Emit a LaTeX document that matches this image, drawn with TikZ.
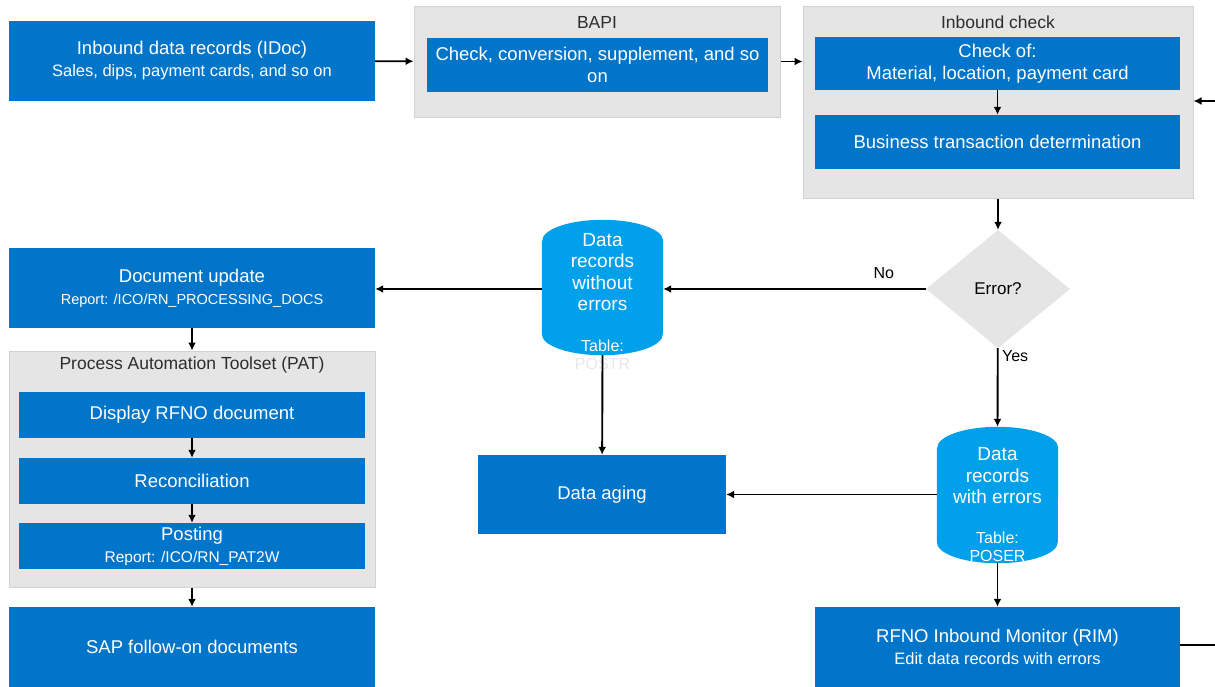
\documentclass[tikz,border=0pt]{standalone}
\usepackage{fontspec}
\setmainfont{Liberation Sans}
\usetikzlibrary{arrows.meta, positioning, shapes.geometric}

\definecolor{sapblue}{RGB}{0,117,201}
\definecolor{sapcyan}{RGB}{0,160,234}
\definecolor{boxgray}{RGB}{229,229,229}
\definecolor{titlegray}{RGB}{45,45,45}

\begin{document}
\begin{tikzpicture}[x=1pt, y=-1pt,
    blue/.style={fill=sapblue, text=white, align=center, inner sep=0pt,
                 font=\fontsize{18.5}{22}\selectfont},
    group/.style={fill=boxgray, draw=gray!35, line width=1pt, inner sep=0pt},
    title/.style={text=titlegray, font=\fontsize{17.5}{20}\selectfont},
    store/.style={inner sep=0pt, minimum width=121, minimum height=135},
    storetxt/.style={text=white, align=center, font=\fontsize{19}{21.5}\selectfont},
    tabletxt/.style={align=center, font=\fontsize{16}{18}\selectfont},
    decision/.style={diamond, fill=boxgray, inner sep=0pt, minimum width=144,
                     minimum height=118, font=\fontsize{17}{20}\selectfont},
    arrow/.style={-{Latex[length=8pt, width=8pt]}, line width=1.9pt},
    line/.style={line width=1.9pt},
    lbl/.style={font=\fontsize{16}{19}\selectfont},
]
\path[use as bounding box] (0,0) rectangle (1215,686);

% top row
\node[blue, minimum width=366, minimum height=80] (idoc) at (192,61)
    {Inbound data records (IDoc)\\{\fontsize{16.5}{19}\selectfont Sales, dips, payment cards, and so on}};

\node[group, minimum width=366, minimum height=111] (bapi) at (597,61.5) {};
\node[title] (bapititle) at (597,22) {BAPI};
\node[blue, minimum width=341, minimum height=54] (conv) at (597.5,65)
    {Check, conversion, supplement, and so\\on};

\node[group, minimum width=390, minimum height=192] (check) at (998,102) {};
\node[title] (checktitle) at (998,22) {Inbound check};
\node[blue, minimum width=365, minimum height=53] (chkof) at (997.5,63.5)
    {Check of:\\Material, location, payment card};
\node[blue, minimum width=365, minimum height=54] (btd) at (997.5,142)
    {Business transaction determination};

% decision and tables
\node[decision] (err) at (998,289) {Error?};

\node[store] (okrec) at (602.5,287.5) {};
\fill[sapcyan] ([yshift=-21pt]okrec.north west) -- ([yshift=21pt]okrec.south west)
    arc[start angle=180, end angle=360, x radius=60.5pt, y radius=21pt]
    -- ([yshift=-21pt]okrec.north east)
    arc[start angle=0, end angle=180, x radius=60.5pt, y radius=21pt] -- cycle;
\node[storetxt] (oktxt) at (602.5,272) {Data\\records\\without\\errors};
\node[tabletxt, text=white] (oktab) at (602.5,346) {Table:};
\node[tabletxt, text=gray!18] (oktabname) at (602.5,364) {POSTR};

\node[store, minimum height=136] (errrec) at (997.5,495) {};
\fill[sapcyan] ([yshift=-21pt]errrec.north west) -- ([yshift=21pt]errrec.south west)
    arc[start angle=180, end angle=360, x radius=60.5pt, y radius=21pt]
    -- ([yshift=-21pt]errrec.north east)
    arc[start angle=0, end angle=180, x radius=60.5pt, y radius=21pt] -- cycle;
\node[storetxt] (errtxt) at (997.5,476) {Data\\records\\with errors};
\node[tabletxt, text=white] (errtab) at (997.5,547) {Table:\\POSER};

\node[blue, minimum width=248, minimum height=79] (aging) at (602,494.5) {Data aging};
\node[blue, minimum width=365, minimum height=80] (rim) at (997.5,647)
    {RFNO Inbound Monitor (RIM)\\{\fontsize{16.5}{19}\selectfont Edit data records with errors}};

% left column
\node[blue, minimum width=366, minimum height=80] (docupd) at (192,288)
    {Document update\\{\fontsize{14.5}{17}\selectfont Report: /ICO/RN\_PROCESSING\_DOCS}};

\node[group, minimum width=366, minimum height=236] (pat) at (192,469) {};
\node[title] (pattitle) at (192,365) {Process Automation Toolset (PAT)};
\node[blue, minimum width=346, minimum height=46] (disp) at (192,415) {Display RFNO document};
\node[blue, minimum width=346, minimum height=46] (reco) at (192,481) {Reconciliation};
\node[blue, minimum width=346, minimum height=46] (post) at (192,546)
    {Posting\\{\fontsize{15.5}{17}\selectfont Report: /ICO/RN\_PAT2W}};

\node[blue, minimum width=366, minimum height=80] (sapdocs) at (192,647) {SAP follow-on documents};

\coordinate (loopin) at (1215,101);
\coordinate (loopout) at (1215,645);

% edges top
\draw[arrow] (idoc) -- (bapi);
\draw[arrow] (bapi.east) -- (bapi.east -| check.west);
\draw[arrow] (chkof) -- (btd);
\draw[arrow] (loopin) -- (check.east |- loopin);
\draw[arrow] (check) -- (err);

% edges middle
\draw[arrow] (err) -- node[pos=0.16, above=6pt, lbl] {No} (okrec.east |- err);
\draw[arrow] (okrec.west |- err) -- (docupd.east |- err);
\draw[arrow] (okrec.south) -- (aging);
\draw[arrow] (err) -- node[pos=0.1, right, lbl] {Yes} (errrec.north);
\draw[arrow] (errrec.west |- aging) -- (aging);
\draw[arrow] (errrec.south) -- (rim);
\draw[line] (rim.east |- loopout) -- (loopout);

% edges left
\draw[arrow] (docupd) -- (pat);
\draw[arrow] (disp) -- (reco);
\draw[arrow] (reco) -- (post);
\draw[arrow] (pat) -- (sapdocs);

\end{tikzpicture}
\end{document}
